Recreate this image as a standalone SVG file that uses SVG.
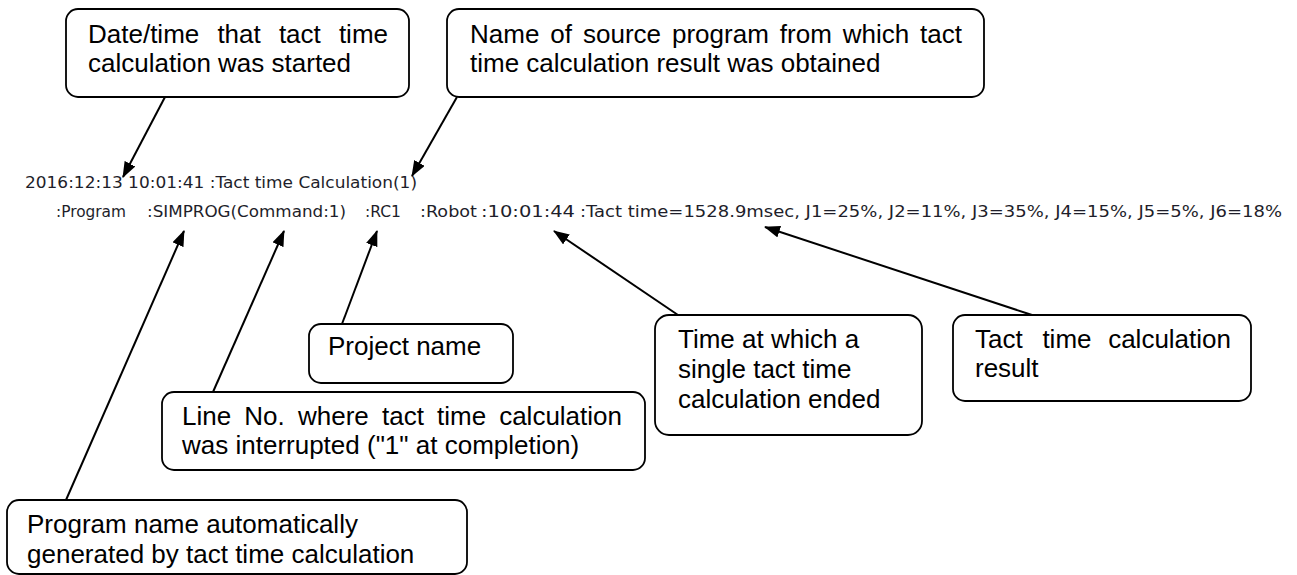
<svg xmlns="http://www.w3.org/2000/svg" width="1297" height="575" viewBox="0 0 1297 575">
<style>
.box{fill:#fff;stroke:#000;stroke-width:1.8}
.lbl{font-family:"Liberation Sans",Arial,sans-serif;font-size:26px;fill:#000}
.log{font-family:"DejaVu Sans",Verdana,sans-serif;font-size:15px;fill:#1e1e2a}
.con{stroke:#000;stroke-width:2;fill:none;marker-end:url(#ah)}
</style>
<defs>
<marker id="ah" markerWidth="16" markerHeight="12" refX="15" refY="6" orient="auto" markerUnits="userSpaceOnUse">
<path d="M0,0 L16,6 L0,12 z" fill="#000"/>
</marker>
</defs>
<rect width="1297" height="575" fill="#fff"/>

<g id="log">
<text class="log" x="25" y="188" textLength="392" lengthAdjust="spacingAndGlyphs">2016:12:13 10:01:41 :Tact time Calculation(1)</text>
<text class="log" x="56" y="217" textLength="70" lengthAdjust="spacingAndGlyphs">:Program</text>
<text class="log" x="147" y="217" textLength="199" lengthAdjust="spacingAndGlyphs">:SIMPROG(Command:1)</text>
<text class="log" x="365" y="217" textLength="36" lengthAdjust="spacingAndGlyphs">:RC1</text>
<text class="log" x="420" y="217" textLength="57" lengthAdjust="spacingAndGlyphs">:Robot</text>
<text class="log" x="481" y="217" textLength="94" lengthAdjust="spacingAndGlyphs">:10:01:44</text>
<text class="log" x="580" y="217" textLength="702" lengthAdjust="spacingAndGlyphs">:Tact time=1528.9msec, J1=25%, J2=11%, J3=35%, J4=15%, J5=5%, J6=18%</text>
</g>

<g id="connectors">
<line class="con" x1="165" y1="97" x2="123" y2="177"/>
<line class="con" x1="457" y1="97" x2="412" y2="176"/>
<line class="con" x1="66" y1="500" x2="184" y2="231"/>
<line class="con" x1="213" y1="392" x2="284" y2="231"/>
<line class="con" x1="342" y1="324" x2="377" y2="231"/>
<line class="con" x1="678" y1="315" x2="554" y2="231"/>
<line class="con" x1="1032" y1="315" x2="765" y2="227"/>
</g>

<g id="start-time">
<rect class="box" x="66" y="9" width="343" height="88" rx="12"/>
<text class="lbl" y="43"><tspan x="88">Date/time</tspan><tspan x="217.4">that</tspan><tspan x="278.9">tact</tspan><tspan x="388" text-anchor="end">time</tspan></text>
<text class="lbl" x="88" y="72">calculation was started</text>
</g>

<g id="source-program">
<rect class="box" x="447" y="9" width="537" height="88" rx="12"/>
<text class="lbl" y="43"><tspan x="470">Name</tspan><tspan x="550.3">of</tspan><tspan x="583">source</tspan><tspan x="672">program</tspan><tspan x="779.8">from</tspan><tspan x="842.8">which</tspan><tspan x="962" text-anchor="end">tact</tspan></text>
<text class="lbl" x="470" y="72">time calculation result was obtained</text>
</g>

<g id="project-name">
<rect class="box" x="309" y="324" width="204" height="59" rx="12"/>
<text class="lbl" x="328" y="355">Project name</text>
</g>

<g id="line-no">
<rect class="box" x="162" y="392" width="483" height="78" rx="12"/>
<text class="lbl" y="425"><tspan x="182">Line</tspan><tspan x="244.3">No.</tspan><tspan x="298">where</tspan><tspan x="382">tact</tspan><tspan x="437.1">time</tspan><tspan x="622" text-anchor="end">calculation</tspan></text>
<text class="lbl" x="182" y="454">was interrupted ("1" at completion)</text>
</g>

<g id="end-time">
<rect class="box" x="655" y="315" width="267" height="120" rx="14"/>
<text class="lbl" x="678" y="348">Time at which a</text>
<text class="lbl" x="678" y="378">single tact time</text>
<text class="lbl" x="678" y="408">calculation ended</text>
</g>

<g id="result">
<rect class="box" x="953" y="315" width="298" height="86" rx="12"/>
<text class="lbl" y="348"><tspan x="975">Tact</tspan><tspan x="1042.4">time</tspan><tspan x="1231" text-anchor="end">calculation</tspan></text>
<text class="lbl" x="975" y="377">result</text>
</g>

<g id="program-name">
<rect class="box" x="7" y="500" width="460" height="74" rx="12"/>
<text class="lbl" x="27" y="533">Program name automatically</text>
<text class="lbl" x="27" y="563">generated by tact time calculation</text>
</g>
</svg>
